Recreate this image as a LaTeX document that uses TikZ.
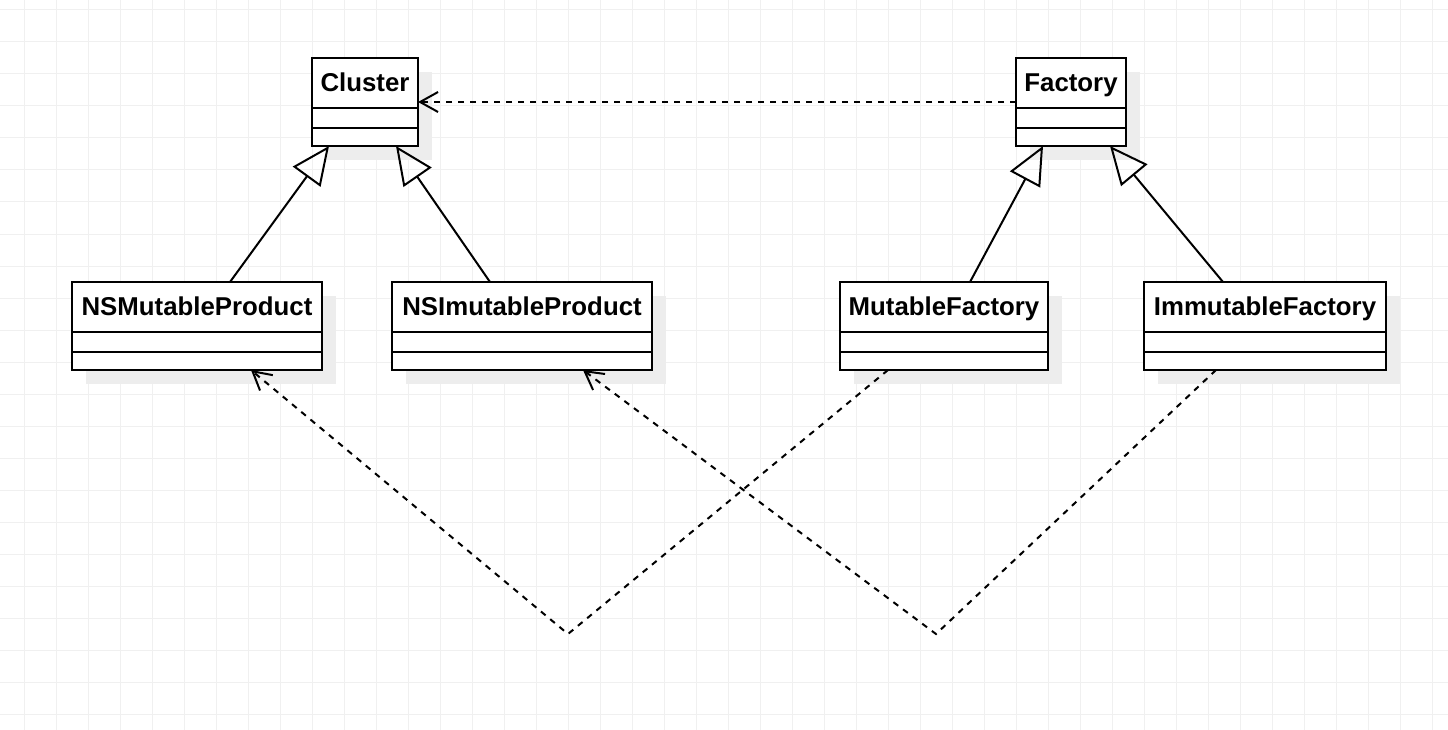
\documentclass[tikz,border=0pt]{standalone}
\usepackage{fontspec}
\setmainfont{Liberation Sans}
\usetikzlibrary{arrows.meta,shadows,calc}
\begin{document}
\begin{tikzpicture}[x=1pt,y=-1pt,
  gridline/.style={draw=black!6, line width=1pt},
  classbox/.style={draw=black, line width=2pt, fill=white, rectangle, inner sep=0pt, outer sep=0pt,
    anchor=north west, minimum height=88pt,
    drop shadow={shadow xshift=14pt, shadow yshift=-14pt, fill=black!7, opacity=1}},
  cname/.style={font=\fontsize{25.8}{30}\selectfont\bfseries, inner sep=0pt, anchor=base},
  divider/.style={draw=black, line width=2pt},
  gen/.style={draw=black, line width=2pt, -{Triangle[open, length=38pt, width=34pt]}},
  dep/.style={draw=black, line width=2pt, dash pattern=on 6pt off 6pt,
    -{Straight Barb[length=18pt, width=20pt, line width=2pt]}}
]
\useasboundingbox (0,0) rectangle (1448,730);
\fill[white] (0,0) rectangle (1448,730);
\foreach \x in {24,56,...,1448} \draw[gridline] (\x,0) -- (\x,730);
\foreach \y in {10,42,...,730} \draw[gridline] (0,\y) -- (1448,\y);

% class boxes
\node[classbox, minimum width=106pt] (cl) at (312,58) {};
\node[classbox, minimum width=110pt] (fa) at (1016,58) {};
\node[classbox, minimum width=250pt] (nsm) at (72,282) {};
\node[classbox, minimum width=260pt] (nsi) at (392,282) {};
\node[classbox, minimum width=208pt] (mf) at (840,282) {};
\node[classbox, minimum width=242pt] (imf) at (1144,282) {};

\foreach \n/\t in {cl/Cluster, fa/Factory, nsm/NSMutableProduct, nsi/NSImutableProduct, mf/MutableFactory, imf/ImmutableFactory}{
  \node[cname] (\n-name) at ([yshift=-33.5pt]\n.north) {\t};
  \draw[divider] ([yshift=-50pt]\n.north west) -- ([yshift=-50pt]\n.north east);
  \draw[divider] ([yshift=-70pt]\n.north west) -- ([yshift=-70pt]\n.north east);
}

% generalizations
\draw[gen] ([xshift=158pt]nsm.north west) -- ([xshift=17pt]cl.south west);
\draw[gen] ([xshift=98pt]nsi.north west) -- ([xshift=84pt]cl.south west);
\draw[gen] ([xshift=130pt]mf.north west) -- ([xshift=27pt]fa.south west);
\draw[gen] ([xshift=79pt]imf.north west) -- ([xshift=94pt]fa.south west);

% dependencies
\coordinate (w1) at (568,634);
\coordinate (w2) at (936,634);
\draw[dep] (fa.west) -- (cl.east);
\draw[dep] ([xshift=48pt]mf.south west) -- (w1) -- ([xshift=179pt]nsm.south west);
\draw[dep] ([xshift=72pt]imf.south west) -- (w2) -- ([xshift=191pt]nsi.south west);
\end{tikzpicture}
\end{document}
